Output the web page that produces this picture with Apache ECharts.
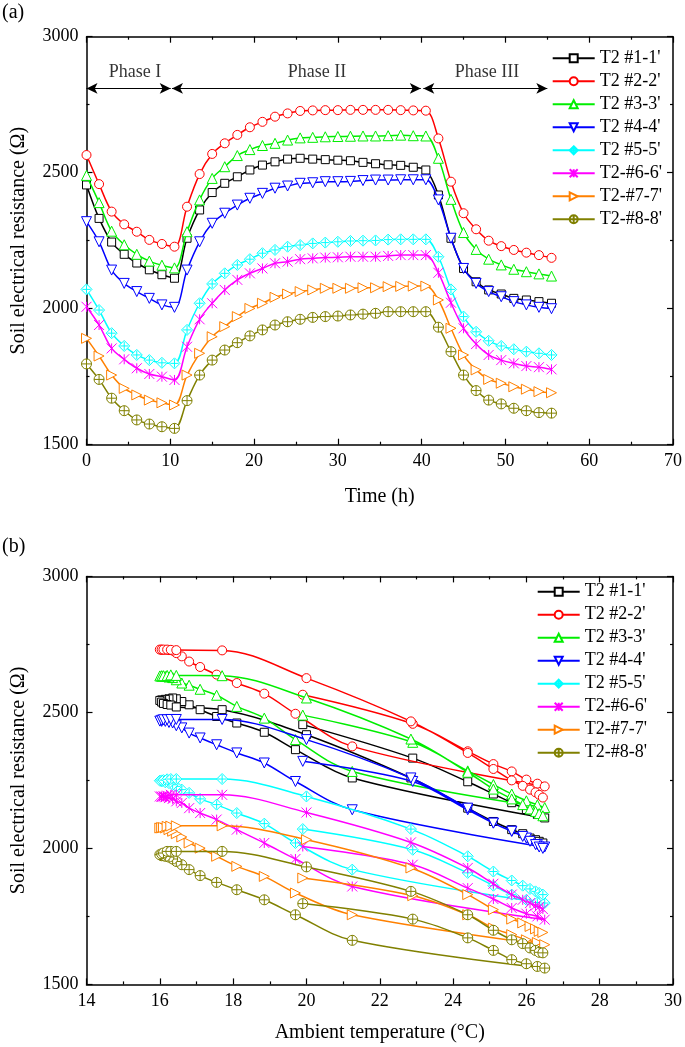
<!DOCTYPE html>
<html><head><meta charset="utf-8">
<script src="https://cdn.jsdelivr.net/npm/echarts@6/dist/echarts.min.js"></script>
<style>html,body{margin:0;padding:0;background:#fff}#c{width:685px;height:1047px}</style>
</head><body><div id="c"></div>
<script>
// ---- data ----
const timeH = [0,1.5,3,4.5,6,7.5,9,10.5,
  12,13.5,15,16.5,18,19.5,21,22.5,24,25.5,27,28.5,30,31.5,33,34.5,36,37.5,39,40.5,
  42,43.5,45,46.5,48,49.5,51,52.5,54,55.5];
const ambientT = [19.9,22.9,24.4,25.1,25.6,26.0,26.3,26.5,
  21.25,19.7,18.85,18.1,17.55,17.1,16.8,16.6,16.45,16.35,16.25,16.15,16.05,16.0,16.05,16.1,16.2,16.3,16.45,17.7,
  20.0,22.85,24.4,25.1,25.6,25.9,26.1,26.25,26.35,26.45];
const seriesNames = ["T2 #1-1'","T2 #2-2'","T2 #3-3'","T2 #4-4'","T2 #5-5'","T2-#6-6'","T2-#7-7'","T2-#8-8'"];
const r1 = [2455,2332,2245,2200,2168,2143,2125,2112,
  2259,2363,2427,2461,2485,2510,2528,2540,2550,2553,2550,2548,2546,2544,2538,2533,2529,2527,2520,2510,
  2418,2259,2148,2099,2069,2054,2038,2032,2026,2020];
const r2 = [2565,2458,2357,2310,2283,2253,2238,2228,
  2375,2495,2569,2608,2639,2667,2687,2706,2718,2727,2729,2730,2730,2731,2731,2731,2731,2730,2729,2728,
  2626,2467,2351,2292,2250,2230,2216,2206,2197,2187];
const r3 = [2490,2390,2285,2235,2200,2175,2160,2150,
  2283,2400,2479,2522,2563,2585,2600,2608,2620,2628,2630,2632,2633,2634,2635,2635,2636,2638,2636,2635,
  2553,2402,2280,2218,2182,2161,2145,2136,2128,2120];
const r4 = [2320,2246,2142,2093,2063,2038,2014,2005,
  2142,2246,2314,2351,2381,2406,2424,2443,2451,2461,2463,2467,2467,2468,2471,2473,2473,2474,2474,2474,
  2400,2259,2148,2093,2063,2044,2026,2014,2005,2000];
const r5 = [2071,1995,1910,1863,1830,1811,1801,1799,
  1922,2020,2091,2130,2161,2182,2204,2216,2228,2234,2240,2243,2246,2249,2250,2251,2254,2255,2255,2255,
  2191,2071,1971,1915,1882,1863,1851,1842,1836,1830];
const r6 = [2007,1940,1854,1814,1781,1760,1750,1738,
  1860,1961,2020,2069,2106,2130,2148,2167,2173,2182,2185,2188,2189,2191,2191,2191,2194,2197,2197,2197,
  2132,2022,1928,1870,1830,1811,1799,1789,1785,1777];
const r7 = [1891,1826,1756,1707,1683,1664,1654,1646,
  1756,1836,1897,1934,1971,2001,2020,2042,2054,2063,2069,2075,2075,2075,2077,2077,2081,2082,2083,2083,
  2032,1928,1830,1775,1740,1726,1713,1704,1695,1691];
const r8 = [1797,1740,1671,1625,1591,1576,1566,1560,
  1662,1756,1811,1848,1875,1900,1922,1940,1952,1961,1968,1971,1973,1977,1980,1983,1989,1989,1989,1989,
  1932,1842,1756,1699,1664,1650,1634,1625,1618,1616];
const resistance = [r1,r2,r3,r4,r5,r6,r7,r8];
const phaseNames = ['Phase I','Phase II','Phase III'];
const phaseStart = [0, 10.2, 40.2];
const phaseEnd = [10.05, 39.9, 55.0];
const phaseTextT = [5.8, 27.5, 47.8];
const phaseArrowR = 2810;
const phaseTextR = 2868;

// ---- styles ----
const colors = ['#000000','#ff0000','#00ee00','#0000ff','#00ffff','#ff00ff','#ff8000','#808000'];
const symbols = [
  'rect',
  'circle',
  'triangle',
  'path://M0,0 L2,0 L1,1.8 Z',
  'path://M1,0 L2,1 L1,2 L0,1 Z M1,0.25 L1,1.75 M0.25,1 L1.75,1',
  'path://M0,0 L2,2 M0,2 L2,0 M1,0 L1,2',
  'path://M0,0 L1.8,1 L0,2 Z',
  'path://M0,1 A1,1 0 1,1 2,1 A1,1 0 1,1 0,1 Z M1,0 L1,2 M0,1 L2,1'
];
const symbolSizes = [8, 9, 10, 10, 11, 10, 10, 10];
const FONT = 'Liberation Serif';
const chart = echarts.init(document.getElementById('c'), null, {renderer:'canvas'});

function axisCommon(extra) {
  return Object.assign({
    type:'value',
    axisLine:{show:true, onZero:false, lineStyle:{color:'#000', width:1.5}},
    axisTick:{show:true, inside:true, length:6, lineStyle:{color:'#000', width:1.2}},
    minorTick:{show:true, splitNumber:2, length:3, lineStyle:{color:'#000', width:1.2}},
    splitLine:{show:false},
    axisLabel:{color:'#000', fontFamily:FONT, fontSize:18, margin:8, formatter: v => String(v)},
    nameTextStyle:{color:'#000', fontFamily:FONT, fontSize:20}
  }, extra);
}
const noLabel = {show:false};

const series = [];
for (let i = 0; i < 8; i++) {
  const base = {
    name: seriesNames[i], type:'line', smooth:0.35,
    symbol: symbols[i], symbolSize: symbolSizes[i],
    lineStyle:{color: colors[i], width:1.5},
    itemStyle:{color:'#fff', borderColor: colors[i], borderWidth:1},
    emphasis:{disabled:true}, animation:false, z: 2 + i
  };
  series.push(Object.assign({}, base, {
    xAxisIndex:0, yAxisIndex:0,
    data: timeH.map((t,k) => [t, resistance[i][k]])
  }));
  series.push(Object.assign({}, base, {
    xAxisIndex:2, yAxisIndex:2,
    data: ambientT.map((T,k) => [T, resistance[i][k]])
  }));
}
series.push({
  name:'phases', type:'scatter', xAxisIndex:0, yAxisIndex:0, symbolSize:0, animation:false, silent:true,
  data: phaseNames.map((n,k) => [phaseTextT[k], phaseTextR, n]),
  label:{show:true, position:'inside', formatter:p => p.data[2], color:'#000', fontFamily:FONT, fontSize:18},
  markLine:{
    silent:true, animation:false, symbol:['arrow','arrow'], symbolSize:[8,11],
    lineStyle:{color:'#000', width:1.2, type:'solid'}, label:{show:false},
    data: phaseNames.map((n,k) => [{coord:[phaseStart[k], phaseArrowR]}, {coord:[phaseEnd[k], phaseArrowR]}])
  }
});

const legendCommon = {
  orient:'vertical', itemWidth:42, itemHeight:10, itemGap:5,
  textStyle:{color:'#000', fontFamily:FONT, fontSize:18},
  data: seriesNames, selectedMode:false, padding:0
};

chart.setOption({
  animation:false,
  backgroundColor:'#fff',
  grid:[
    {left:86.5, top:36.7, width:588, height:408},
    {left:86.5, top:576.4, width:588, height:408}
  ],
  xAxis:[
    axisCommon({gridIndex:0, position:'bottom', min:0, max:70, interval:10,
      name:'Time (h)', nameLocation:'middle', nameGap:42}),
    axisCommon({gridIndex:0, position:'top', min:0, max:70, interval:10, axisLabel:noLabel}),
    axisCommon({gridIndex:1, position:'bottom', min:14, max:30, interval:2,
      name:'Ambient temperature (°C)', nameLocation:'middle', nameGap:38}),
    axisCommon({gridIndex:1, position:'top', min:14, max:30, interval:2, axisLabel:noLabel})
  ],
  yAxis:[
    axisCommon({gridIndex:0, position:'left', min:1500, max:3000, interval:500,
      name:'Soil electrical resistance (Ω)', nameLocation:'middle', nameGap:58, nameRotate:90}),
    axisCommon({gridIndex:0, position:'right', min:1500, max:3000, interval:500, axisLabel:noLabel}),
    axisCommon({gridIndex:1, position:'left', min:1500, max:3000, interval:500,
      name:'Soil electrical resistance (Ω)', nameLocation:'middle', nameGap:58, nameRotate:90}),
    axisCommon({gridIndex:1, position:'right', min:1500, max:3000, interval:500, axisLabel:noLabel})
  ],
  legend:[
    Object.assign({}, legendCommon, {left:551.7, top:49.3}),
    Object.assign({}, legendCommon, {left:536.7, top:582.7})
  ],
  graphic:[
    {type:'text', left:2, top:3, style:{text:'(a)', fill:'#000', font:'20px "Liberation Serif"'}},
    {type:'text', left:2, top:537, style:{text:'(b)', fill:'#000', font:'20px "Liberation Serif"'}}
  ],
  series: series
});
</script>
</body></html>
